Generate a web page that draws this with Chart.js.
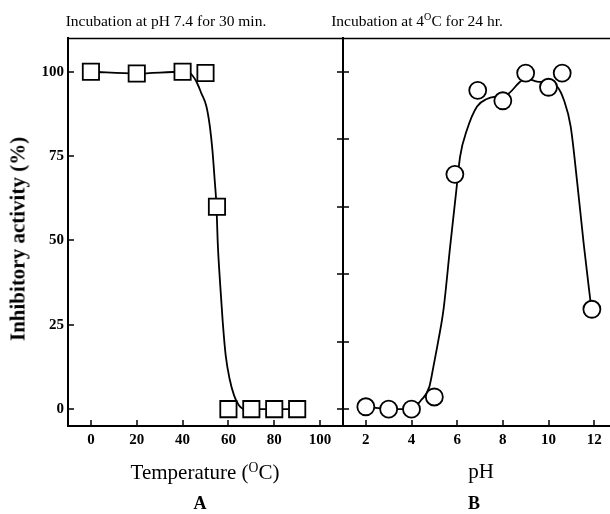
<!DOCTYPE html>
<html>
<head>
<meta charset="utf-8">
<script src="https://cdn.jsdelivr.net/npm/chart.js@4.4.1/dist/chart.umd.min.js"></script>
<style>
html, body { margin: 0; padding: 0; background: #fff; overflow: hidden; width: 610px; height: 514px; }
#wrap { position: relative; width: 610px; height: 514px; font-family: "Liberation Serif", "DejaVu Serif", serif; color: #000; }
canvas { position: absolute; top: 0; }
#cA { left: 0; }
#cB { left: 300px; }
.t { position: absolute; white-space: nowrap; line-height: 1; transform: translate(-50%, -50%); }
.sup { font-size: 65%; position: relative; top: -0.55em; }
</style>
</head>
<body>
<div id="wrap">
  <canvas id="cA" width="345" height="514"></canvas>
  <canvas id="cB" width="330" height="514"></canvas>
  <div class="t" style="left:166px;top:21px;font-size:15.5px">Incubation at pH 7.4 for 30 min.</div>
  <div class="t" style="left:417px;top:21px;font-size:15.5px">Incubation at 4<span class="sup">O</span>C for 24 hr.</div>
  <div class="t" style="left:18px;top:239px;font-size:21px;font-weight:bold;transform:translate(-50%,-50%) rotate(-90deg)">Inhibitory activity (%)</div>
  <div class="t" style="left:205px;top:472px;font-size:21px">Temperature (<span class="sup">O</span>C)</div>
  <div class="t" style="left:200px;top:503px;font-size:18px;font-weight:bold">A</div>
  <div class="t" style="left:481px;top:471px;font-size:21px">pH</div>
  <div class="t" style="left:474px;top:503px;font-size:18px;font-weight:bold">B</div>
</div>
<script>
// Panneau A : stabilité thermique
const tempX = [0, 20, 40, 50, 55, 60, 70, 80, 90];
const tempY = [100, 99.5, 100, 99.6, 60, 0, 0, 0, 0];
// courbe lissée
const tempCurveX = [0, 20, 40, 43, 46, 48.2, 50.4, 51.9, 53, 54, 54.8, 55.3, 56.3, 57.5, 58.8, 60.5, 62.5, 64.5, 67, 70, 80, 90];
const tempCurveY = [100, 99.5, 100, 99.7, 97.1, 93.6, 89.7, 83.8, 76.9, 68, 60, 50, 38, 26, 16, 9, 4, 1.2, 0, 0, 0, 0];

// Panneau B : stabilité au pH
const phX = [2, 3, 4, 5, 5.9, 6.9, 8, 9, 10, 10.6, 11.9];
const phY = [0.7, 0, 0, 3.6, 69.6, 94.5, 91.4, 99.6, 95.4, 99.6, 29.6];
const phCurveX = [2, 3, 4, 4.4, 4.78, 4.96, 5.18, 5.4, 5.69, 5.95, 6.13, 6.43, 6.87, 7.3, 7.75, 8.18, 8.77, 9, 9.5, 9.94, 10.38, 10.67, 10.97, 11.26, 11.55, 11.88];
const phCurveY = [0.7, 0, 0, 2.5, 6.6, 12.6, 20.5, 29.4, 48, 64, 74.9, 82.8, 89.7, 91.9, 92.7, 93.2, 97.1, 98, 97.1, 96.8, 95.6, 91.7, 83.8, 67, 48.5, 29.6];

// graduations
const tempTicks = [0, 20, 40, 60, 80, 100];
const activityTicks = [0, 25, 50, 75, 100];
const phTicks = [2, 4, 6, 8, 10, 12];
const middleTicks = [0, 20, 40, 60, 80, 100];

Chart.defaults.font.family = '"Liberation Serif", "DejaVu Serif", serif';
Chart.defaults.color = '#000';

const toPoints = (xs, ys) => xs.map((x, i) => ({ x, y: ys[i] }));
const setTicks = list => scale => { scale.ticks = list.map(v => ({ value: v })); };

// cadre du haut + graduations tournées vers l'intérieur
const frameTicks = {
    id: 'frameTicks',
    afterDraw(chart, args, opts) {
        const { ctx, chartArea: a, scales: { x, y } } = chart;
        ctx.save();
        ctx.strokeStyle = '#000';
        ctx.lineWidth = 1.5;
        ctx.beginPath();
        ctx.moveTo(a.left, a.top + 0.5);
        ctx.lineTo(a.right + 1, a.top + 0.5);
        x.ticks.forEach(t => {
            const px = Math.round(x.getPixelForValue(t.value));
            ctx.moveTo(px, a.bottom);
            ctx.lineTo(px, a.bottom - 6);
        });
        y.ticks.forEach(t => {
            const py = Math.round(y.getPixelForValue(t.value));
            ctx.moveTo(a.left - opts.outer, py);
            ctx.lineTo(a.left + 6, py);
        });
        ctx.stroke();
        ctx.restore();
    }
};

function makePanel(id, p) {
    const tickFont = { size: 15, weight: 'bold' };
    return new Chart(document.getElementById(id), {
        type: 'scatter',
        data: {
            datasets: [{
                data: toPoints(p.xs, p.ys),
                showLine: false,
                pointStyle: p.marker,
                pointRadius: p.radius,
                pointBorderWidth: 1.8,
                pointBorderColor: '#000',
                pointBackgroundColor: '#fff'
            }, {
                data: toPoints(p.cx, p.cy),
                showLine: true,
                pointRadius: 0,
                borderColor: '#000',
                borderWidth: 1.8,
                cubicInterpolationMode: 'monotone',
                fill: false
            }]
        },
        options: {
            responsive: false,
            devicePixelRatio: 1,
            animation: false,
            // sinon Chart.js réserve de la place pour les gros marqueurs
            layout: { autoPadding: false, padding: { top: 38, right: p.padRight, left: 0, bottom: 0 } },
            plugins: { legend: { display: false }, tooltip: { enabled: false }, frameTicks: { outer: p.outer } },
            scales: {
                x: {
                    type: 'linear', min: p.xMin, max: p.xMax,
                    afterBuildTicks: setTicks(p.xTicks),
                    afterFit: s => { s.height = 88; },
                    grid: { display: false, drawTicks: false },
                    border: { display: true, color: '#000', width: 2 },
                    ticks: { font: tickFont, padding: 5, maxRotation: 0, autoSkip: false }
                },
                y: {
                    type: 'linear', min: -5, max: 110,
                    afterBuildTicks: setTicks(p.yTicks),
                    afterFit: s => { s.width = p.yWidth; },
                    grid: { display: false, drawTicks: false },
                    border: { display: true, color: '#000', width: 2 },
                    ticks: { display: p.yLabels, font: tickFont, padding: 4 }
                }
            }
        },
        plugins: [frameTicks]
    });
}

makePanel('cA', {
    xs: tempX, ys: tempY, cx: tempCurveX, cy: tempCurveY,
    marker: 'rect', radius: 11.5,
    xMin: -10, xMax: 110, xTicks: tempTicks, yTicks: activityTicks,
    yWidth: 68, yLabels: true, padRight: 2, outer: 0
});

makePanel('cB', {
    xs: phX, ys: phY, cx: phCurveX, cy: phCurveY,
    marker: 'circle', radius: 8.5,
    xMin: 1, xMax: 13, xTicks: phTicks, yTicks: middleTicks,
    yWidth: 43, yLabels: false, padRight: 13, outer: 6
});
</script>
</body>
</html>
